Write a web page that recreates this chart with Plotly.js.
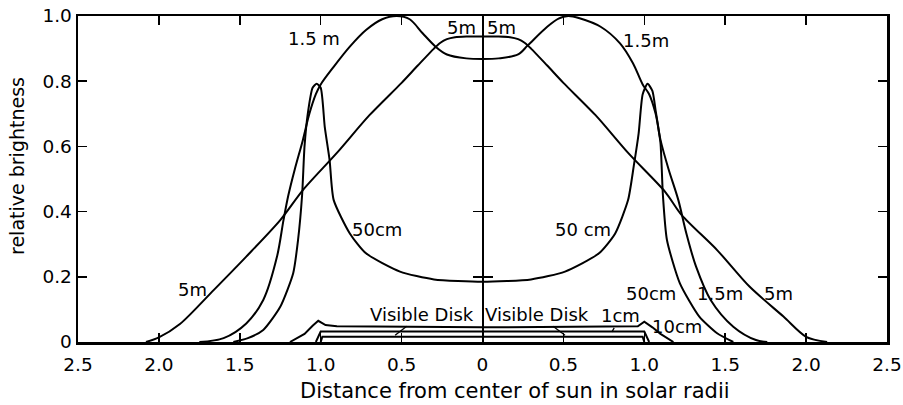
<!DOCTYPE html>
<html>
<head>
<meta charset="utf-8">
<script src="https://cdn.plot.ly/plotly-3.0.1.min.js"></script>
<style>html,body{margin:0;padding:0;background:#fff;}#chart{width:903px;height:405px;}</style>
</head>
<body>
<div id="chart"></div>
<script>
// Distance from center of sun (solar radii; negative = left half) and relative brightness
const x5m = [-2.08, -2.0, -1.87, -1.66, -1.46, -1.25, -1.11, -0.9, -0.7, -0.5, -0.4, -0.3, -0.26, -0.22, -0.17, -0.1, 0, 0.1, 0.17, 0.22, 0.26, 0.3, 0.4, 0.5, 0.7, 0.9, 1.13, 1.23, 1.45, 1.65, 1.86, 2.0, 2.13];
const y5m = [0, 0.014, 0.055, 0.16, 0.262, 0.374, 0.466, 0.58, 0.695, 0.795, 0.848, 0.9, 0.918, 0.929, 0.935, 0.937, 0.937, 0.937, 0.935, 0.929, 0.918, 0.9, 0.848, 0.795, 0.695, 0.58, 0.46, 0.39, 0.282, 0.17, 0.078, 0.016, 0];

const x15m = [-1.75, -1.6, -1.46, -1.355, -1.27, -1.23, -1.2, -1.16, -1.11, -1.07, -1.03, -1.0, -0.92, -0.82, -0.72, -0.62, -0.53, -0.45, -0.37, -0.29, -0.22, -0.1, 0, 0.1, 0.22, 0.28, 0.4, 0.47, 0.53, 0.6, 0.73, 0.85, 0.93, 0.99, 1.03, 1.07, 1.1, 1.15, 1.21, 1.26, 1.32, 1.41, 1.55, 1.69, 1.76];
const y15m = [0, 0.012, 0.057, 0.129, 0.262, 0.374, 0.45, 0.53, 0.62, 0.7, 0.76, 0.79, 0.844, 0.906, 0.957, 0.99, 1.0, 0.99, 0.947, 0.906, 0.882, 0.87, 0.868, 0.87, 0.882, 0.91, 0.967, 0.992, 1.0, 0.993, 0.967, 0.916, 0.855, 0.79, 0.76, 0.7, 0.62, 0.53, 0.436, 0.333, 0.231, 0.129, 0.047, 0.006, 0];

const x50cm = [-1.54, -1.45, -1.355, -1.25, -1.17, -1.14, -1.115, -1.1, -1.08, -1.05, -1.025, -1.0, -0.975, -0.945, -0.92, -0.82, -0.72, -0.51, -0.3, 0, 0.3, 0.51, 0.72, 0.82, 0.9, 0.935, 0.965, 0.99, 1.02, 1.05, 1.07, 1.1, 1.115, 1.14, 1.22, 1.34, 1.45, 1.55];
const y50cm = [0, 0.012, 0.037, 0.108, 0.211, 0.313, 0.45, 0.6, 0.7, 0.78, 0.792, 0.78, 0.66, 0.558, 0.436, 0.333, 0.272, 0.216, 0.192, 0.185, 0.192, 0.216, 0.272, 0.333, 0.436, 0.54, 0.64, 0.76, 0.792, 0.77, 0.71, 0.61, 0.45, 0.313, 0.18, 0.078, 0.027, 0];

const x10cm = [-1.19, -1.1, -1.05, -1.015, -0.97, -0.9, 0, 0.9, 0.96, 1.0, 1.05, 1.1, 1.18];
const y10cm = [0, 0.025, 0.05, 0.065, 0.052, 0.048, 0.045, 0.046, 0.048, 0.062, 0.045, 0.025, 0];

const x1cm = [-1.03, -1.0, 0, 1.0, 1.03];
const y1cm = [0, 0.032, 0.032, 0.032, 0];

const xVis = [-1.0, -0.99, 0, 0.99, 1.0];
const yVis = [0, 0.016, 0.016, 0.016, 0];

const xTickVals = [-2.5, -2, -1.5, -1, -0.5, 0, 0.5, 1, 1.5, 2, 2.5];
const xTickText = ['2.5', '2.0', '1.5', '1.0', '0.5', '0', '0.5', '1.0', '1.5', '2.0', '2.5'];
const yTickVals = [0, 0.2, 0.4, 0.6, 0.8, 1.0];
const yTickText = ['0', '0.2', '0.4', '0.6', '0.8', '1.0'];
const centerTickVals = [0.2, 0.4, 0.6, 0.8];

const FONT = 'DejaVu Sans, Arial, sans-serif';

function tr(x, y, shape, smooth) {
  return {x: x, y: y, type: 'scatter', mode: 'lines',
    line: {color: '#000', width: 2, shape: shape, smoothing: smooth},
    hoverinfo: 'skip', showlegend: false, cliponaxis: false};
}

const traces = [
  tr(x5m, y5m, 'spline', 0.8), tr(x15m, y15m, 'spline', 0.9), tr(x50cm, y50cm, 'spline', 0.6),
  tr(x10cm, y10cm, 'linear'), tr(x1cm, y1cm, 'linear'), tr(xVis, yVis, 'linear'),
  {x: [0], y: [null], yaxis: 'y2', type: 'scatter', mode: 'lines', showlegend: false, hoverinfo: 'skip'},
  {x: [0], y: [null], yaxis: 'y3', type: 'scatter', mode: 'lines', showlegend: false, hoverinfo: 'skip'},
  {x: [null], y: [0], xaxis: 'x2', type: 'scatter', mode: 'lines', showlegend: false, hoverinfo: 'skip'}
];

function lab(x, y, t) {
  return {x: x, y: y, xref: 'x', yref: 'y', text: t, showarrow: false, font: {family: FONT, size: 18, color: '#000'}};
}
function ptr(x, y, t, ax, ay) {
  return {x: x, y: y, xref: 'x', yref: 'y', text: t, showarrow: true, arrowhead: 0, arrowwidth: 1.3, arrowcolor: '#000',
    ax: ax, ay: ay, standoff: 0, startstandoff: 0, font: {family: FONT, size: 18, color: '#000'}};
}

const annotations = [
  lab(-1.04, 0.93, '1.5 m'),
  lab(-0.13, 0.965, '5m'),
  lab(0.12, 0.965, '5m'),
  lab(1.01, 0.925, '1.5m'),
  lab(-0.65, 0.345, '50cm'),
  lab(0.62, 0.345, '50 cm'),
  lab(-1.79, 0.16, '5m'),
  lab(1.04, 0.15, '50cm'),
  lab(1.47, 0.15, '1.5m'),
  lab(1.83, 0.15, '5m'),
  ptr(0.8, 0.031, '1cm', 9, -16),
  lab(1.2, 0.047, '10cm'),
  ptr(-0.54, 0.021, 'Visible Disk', 27, -21),
  ptr(0.51, 0.021, 'Visible Disk', -28, -21),
  {xref: 'paper', yref: 'paper', x: 0.54, y: 0, yshift: -49, xanchor: 'center', yanchor: 'middle', showarrow: false,
    text: 'Distance from center of sun in solar radii', font: {family: FONT, size: 21, color: '#000'}},
  {xref: 'paper', yref: 'paper', x: 0, y: 0.54, xshift: -61, xanchor: 'center', yanchor: 'middle', showarrow: false,
    textangle: -90, text: 'relative brightness', font: {family: FONT, size: 19, color: '#000'}}
];

const axisFont = {family: FONT, size: 18.5, color: '#000'};

const layout = {
  width: 903, height: 405,
  margin: {l: 78, r: 16, t: 16, b: 63},
  paper_bgcolor: '#fff', plot_bgcolor: '#fff',
  showlegend: false,
  xaxis: {
    range: [-2.5, 2.5], tickvals: xTickVals, showticklabels: false,
    ticks: 'inside', ticklen: 9, tickwidth: 1.5, tickcolor: '#000',
    showline: true, linewidth: 2.5, linecolor: '#000', mirror: 'ticks',
    showgrid: false, zeroline: false
  },
  xaxis2: {
    overlaying: 'x', anchor: 'y', side: 'bottom', range: [-2.5, 2.5],
    tickvals: xTickVals, ticktext: xTickText, ticks: 'outside', ticklen: 6, tickcolor: 'rgba(0,0,0,0)',
    showline: false, showgrid: false, zeroline: false, tickfont: axisFont
  },
  yaxis: {
    range: [0, 1], tickvals: yTickVals, ticktext: yTickText,
    ticks: 'inside', ticklen: 9, tickwidth: 1.5, tickcolor: '#000',
    showline: true, linewidth: 2.5, linecolor: '#000', mirror: 'ticks',
    showgrid: false, zeroline: false, tickfont: axisFont
  },
  yaxis2: {
    overlaying: 'y', anchor: 'free', position: 0.5, side: 'left', range: [0, 1],
    tickvals: centerTickVals, ticks: 'outside', ticklen: 9, tickwidth: 1.5, tickcolor: '#000',
    showline: true, linewidth: 2, linecolor: '#000', showticklabels: false, showgrid: false, zeroline: false
  },
  yaxis3: {
    overlaying: 'y', anchor: 'free', position: 0.5, side: 'right', range: [0, 1],
    tickvals: centerTickVals, ticks: 'outside', ticklen: 9, tickwidth: 1.5, tickcolor: '#000',
    showline: true, linewidth: 2, linecolor: '#000', showticklabels: false, showgrid: false, zeroline: false
  },
  annotations: annotations
};

Plotly.newPlot('chart', traces, layout, {displayModeBar: false, staticPlot: true});
</script>
</body>
</html>
